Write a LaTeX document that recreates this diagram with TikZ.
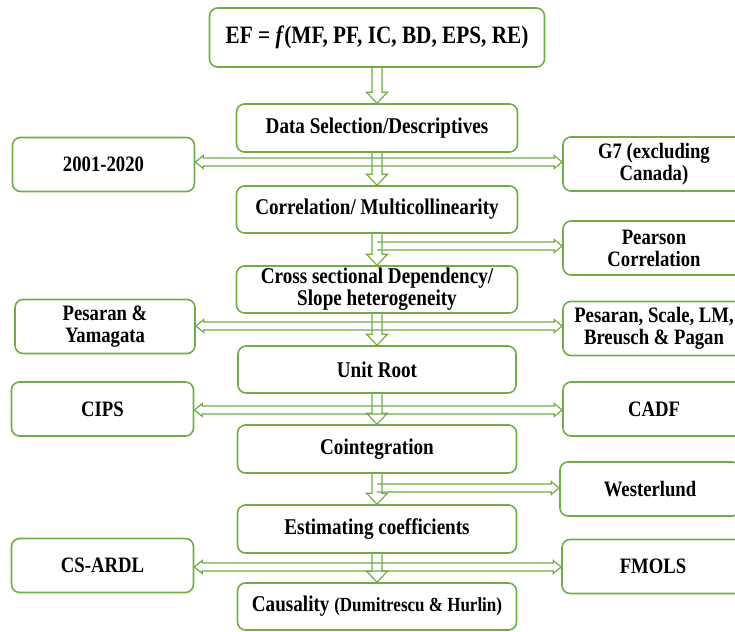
\documentclass[tikz,border=0pt]{standalone}
\usepackage{fontspec}
\setmainfont{Liberation Serif}[FakeStretch=0.85]
\usetikzlibrary{calc}
\definecolor{boxgreen}{RGB}{112,173,71}
\tikzset{
    stagebox/.style={draw=boxgreen, line width=1.6pt, rounded corners=8pt, align=center,
        font=\bfseries\fontsize{22.5}{22}\selectfont, minimum height=47pt, inner sep=2pt},
    sidebox/.style={stagebox, font=\bfseries\fontsize{22}{22}\selectfont, minimum width=182pt, minimum height=54pt},
    fatarrow/.style n args={3}{draw=boxgreen, line width=1.2pt, to path={
        ($(\tikztotarget)!#3!(\tikztostart)$) coordinate (hb)
        ($(\tikztostart)!#1!90:(\tikztotarget)$) -- ($(hb)!#1!90:(\tikztotarget)$)
        -- ($(hb)!#2!90:(\tikztotarget)$) -- (\tikztotarget)
        -- ($(hb)!#2!-90:(\tikztotarget)$) -- ($(hb)!#1!-90:(\tikztotarget)$)
        -- ($(\tikztostart)!#1!-90:(\tikztotarget)$)}},
    downarrow/.style={fatarrow={5pt}{10.5pt}{11pt}},
    sidearrow/.style={fatarrow={4pt}{6.5pt}{8pt}}
}
\begin{document}
\begin{tikzpicture}[x=1pt,y=-1pt]
        \useasboundingbox (0,0) rectangle (735,631);
        \clip (0,0) rectangle (735,631);

        \node[stagebox, minimum width=335pt, minimum height=59pt, font=\bfseries\fontsize{25}{28}\selectfont] (ef) at (377,37.5) {EF = \textit{f}(MF, PF, IC, BD, EPS, RE)};
        \node[stagebox, minimum width=281pt, minimum height=48pt] (data) at (377,128) {Data Selection/Descriptives};
        \node[stagebox, minimum width=281pt] (corr) at (377,209.5) {Correlation/ Multicollinearity};
        \node[stagebox, minimum width=281pt] (cross) at (377,289.5) {Cross sectional Dependency/\\Slope heterogeneity};
        \node[stagebox, minimum width=278pt] (unit) at (377,369.5) {Unit Root};
        \node[stagebox, minimum width=279pt, minimum height=48pt] (coint) at (377,449) {Cointegration};
        \node[stagebox, minimum width=279pt, minimum height=48pt] (est) at (377,529) {Estimating coefficients};
        \node[stagebox, minimum width=279pt] (caus) at (377,606.5) {Causality {\fontsize{20}{22}\selectfont (Dumitrescu \& Hurlin)}};

        \node[sidebox] (years) at (103.5,164.5) {2001-2020};
        \node[sidebox] (g7) at (654,164) {G7 (excluding\\Canada)};
        \node[sidebox] (pears) at (654,248) {Pearson\\Correlation};
        \node[sidebox, minimum width=180pt] (pesy) at (105,326.5) {Pesaran \&\\Yamagata};
        \node[sidebox] (pesl) at (654,328.5) {Pesaran, Scale, LM,\\Breusch \& Pagan};
        \node[sidebox] (cips) at (102.5,409) {CIPS};
        \node[sidebox] (cadf) at (654,409) {CADF};
        \node[sidebox, minimum width=180pt] (west) at (650,489) {Westerlund};
        \node[sidebox] (csardl) at (102.5,565.5) {CS-ARDL};
        \node[sidebox] (fmols) at (653,566.5) {FMOLS};

        \coordinate (j1) at (377,162);
        \coordinate (j2) at (377,246);
        \coordinate (j3) at (377,326);
        \coordinate (j4) at (377,410);
        \coordinate (j5) at (377,488);
        \coordinate (j6) at (377,567);

        \path[downarrow] (ef.south) to (data.north);
        \path[downarrow] (data.south) to (corr.north);
        \path[downarrow] (corr.south) to (cross.north);
        \path[downarrow] (cross.south) to (unit.north);
        \path[downarrow] (unit.south) to (coint.north);
        \path[downarrow] (coint.south) to (est.north);
        \path[downarrow] (est.south) to (caus.north);

        \path[sidearrow] (j1) to (j1 -| years.east);
        \path[sidearrow] (j1) to (j1 -| g7.west);
        \path[sidearrow] (j2) to (j2 -| pears.west);
        \path[sidearrow] (j3) to (j3 -| pesy.east);
        \path[sidearrow] (j3) to (j3 -| pesl.west);
        \path[sidearrow] (j4) to (j4 -| cips.east);
        \path[sidearrow] (j4) to (j4 -| cadf.west);
        \path[sidearrow] (j5) to (j5 -| west.west);
        \path[sidearrow] (j6) to (j6 -| csardl.east);
        \path[sidearrow] (j6) to (j6 -| fmols.west);
    \end{tikzpicture}
\end{document}
